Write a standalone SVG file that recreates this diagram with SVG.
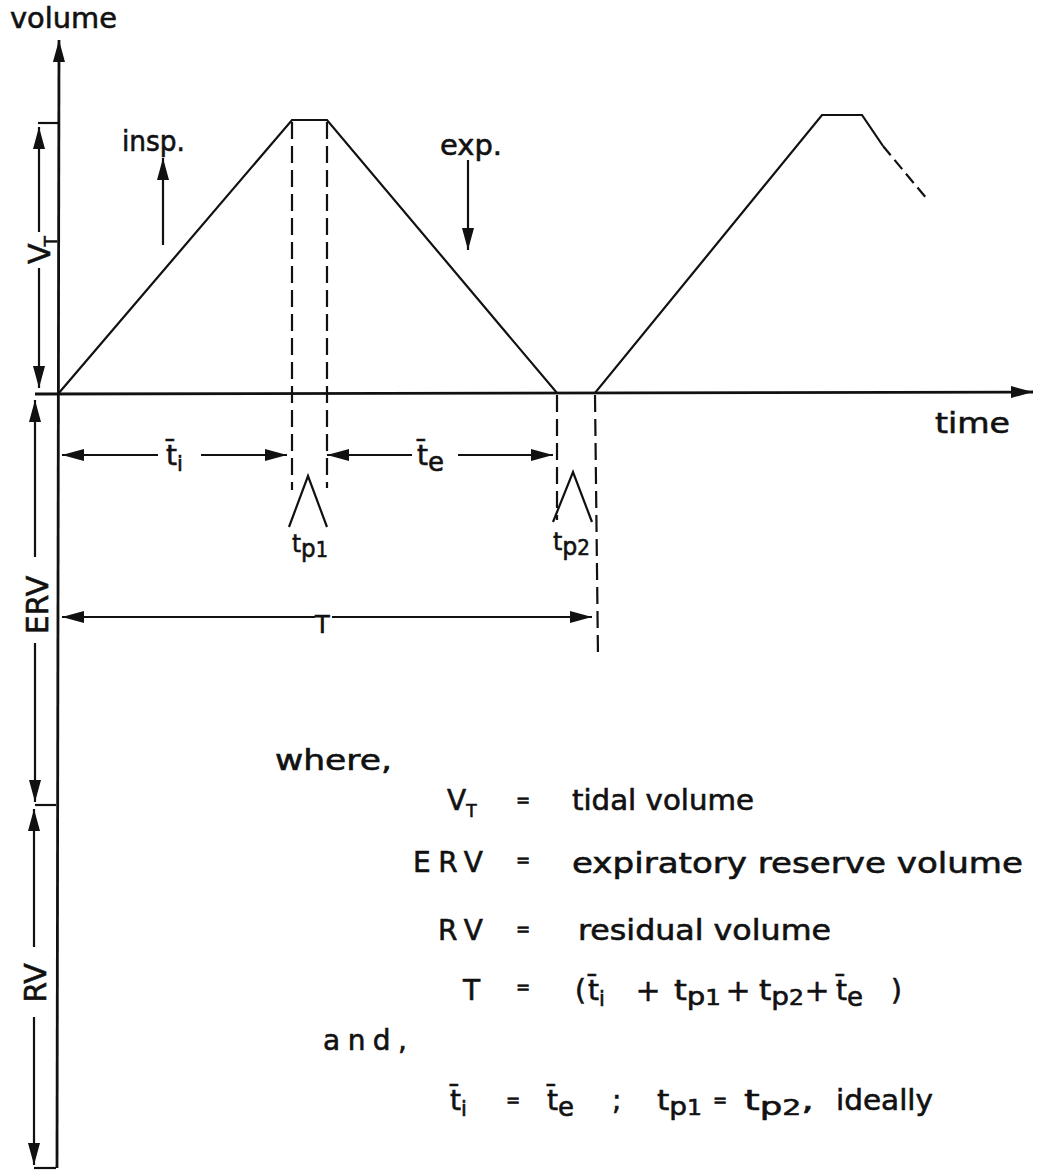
<svg xmlns="http://www.w3.org/2000/svg" width="1043" height="1171" viewBox="0 0 1043 1171">
<defs>
<marker id="ah" viewBox="0 0 22 12" refX="22" refY="6" markerWidth="22" markerHeight="12" markerUnits="userSpaceOnUse" orient="auto"><path d="M0,0 L22,6 L0,12 z" fill="#111"/></marker>
</defs>
<style>
.ln{stroke:#111;stroke-width:2.2;fill:none}
.ax{stroke:#111;stroke-width:2.8;fill:none}
.dash{stroke:#111;stroke-width:2.2;fill:none;stroke-dasharray:17 7}
.t{font-family:"DejaVu Sans",sans-serif;font-size:28px;fill:#111;stroke:#111;stroke-width:0.6}
.r{font-family:"DejaVu Sans",sans-serif;font-size:30px;fill:#111;stroke:#111;stroke-width:0.6}
.s{font-size:21px}
.eq{font-family:"DejaVu Sans",sans-serif;font-size:17px;fill:#111;stroke:#111;stroke-width:0.6;text-anchor:middle}
.pl{font-family:"DejaVu Sans",sans-serif;font-size:30px;fill:#111;stroke:#111;stroke-width:0.4;text-anchor:middle}
</style>
<rect width="1043" height="1171" fill="#fff"/>

<g id="axes">
<line class="ax" x1="57" y1="1168" x2="59" y2="40" marker-end="url(#ah)"/>
<line class="ax" x1="35" y1="394" x2="1033" y2="392" marker-end="url(#ah)"/>
<text class="t" x="10" y="28" textLength="107" lengthAdjust="spacingAndGlyphs">volume</text>
<text class="t" x="935" y="433" textLength="75" lengthAdjust="spacingAndGlyphs">time</text>
</g>

<g id="curve">
<path class="ln" d="M58,394 L292,120 L327,120 L557,393 L595,393 L822,115 L862,115 L883,146"/>
<path class="dash" d="M883,146 L927,199" style="stroke-dasharray:12 6"/>
</g>

<g id="guides">
<line class="dash" x1="292" y1="122" x2="292" y2="490"/>
<line class="dash" x1="327" y1="122" x2="327" y2="488"/>
<line class="dash" x1="557" y1="395" x2="557" y2="520"/>
<line class="dash" x1="595" y1="395" x2="598" y2="657"/>
<path class="ln" d="M289,527 L308,476 L327,527"/>
<path class="ln" d="M553,522 L573,472 L592,522"/>
</g>

<g id="connectors">
<line class="ln" x1="163" y1="245" x2="163" y2="158" marker-end="url(#ah)"/>
<line class="ln" x1="468" y1="160" x2="468" y2="250" marker-end="url(#ah)"/>
<line class="ln" x1="38" y1="123" x2="60" y2="123"/>
<line class="ln" x1="39" y1="232" x2="39" y2="127" marker-end="url(#ah)"/>
<line class="ln" x1="39" y1="268" x2="39" y2="388" marker-end="url(#ah)"/>
<line class="ln" x1="35" y1="557" x2="35" y2="400" marker-end="url(#ah)"/>
<line class="ln" x1="35" y1="643" x2="35" y2="802" marker-end="url(#ah)"/>
<line class="ln" x1="35" y1="805" x2="56" y2="805"/>
<line class="ln" x1="34" y1="947" x2="34" y2="809" marker-end="url(#ah)"/>
<line class="ln" x1="34" y1="1017" x2="34" y2="1165" marker-end="url(#ah)"/>
<line class="ln" x1="34" y1="1168" x2="56" y2="1168"/>
<line class="ln" x1="158" y1="455" x2="62" y2="455" marker-end="url(#ah)"/>
<line class="ln" x1="201" y1="455" x2="287" y2="455" marker-end="url(#ah)"/>
<line class="ln" x1="412" y1="455" x2="327" y2="455" marker-end="url(#ah)"/>
<line class="ln" x1="458" y1="455" x2="553" y2="455" marker-end="url(#ah)"/>
<line class="ln" x1="315" y1="617" x2="62" y2="617" marker-end="url(#ah)"/>
<line class="ln" x1="332" y1="617" x2="592" y2="617" marker-end="url(#ah)"/>
</g>

<g id="labels">
<text class="t" x="122" y="151" textLength="63" lengthAdjust="spacingAndGlyphs">insp.</text>
<text class="t" x="440" y="155" textLength="62" lengthAdjust="spacingAndGlyphs">exp.</text>
<text class="r" transform="translate(50,264) rotate(-90)">V<tspan style="font-size:17px" dx="-3" dy="7">T</tspan></text>
<text class="r" text-anchor="middle" transform="translate(48,605) rotate(-90)">ERV</text>
<text class="r" text-anchor="middle" transform="translate(46,983) rotate(-90)">RV</text>
<text class="t" x="166" y="465">t̄<tspan class="s" dy="6">i</tspan></text>
<text class="t" x="417" y="465">t̄<tspan style="font-size:26px" dy="6">e</tspan></text>
<text class="t" x="315" y="633" style="font-size:24px">T</text>
<text class="t" x="292" y="552" style="font-size:25px" textLength="36" lengthAdjust="spacingAndGlyphs">t<tspan dy="5">p</tspan><tspan class="s">1</tspan></text>
<text class="t" x="553" y="550" style="font-size:25px" textLength="37" lengthAdjust="spacingAndGlyphs">t<tspan dy="5">p</tspan><tspan class="s">2</tspan></text>
</g>

<g id="legend">
<text class="t" x="275" y="770" textLength="117" lengthAdjust="spacingAndGlyphs">where,</text>

<text class="t" x="447" y="810">V<tspan style="font-size:17px" dy="7">T</tspan></text>
<text class="eq" x="523" y="806">=</text>
<text class="t" x="572" y="810" textLength="182" lengthAdjust="spacingAndGlyphs">tidal volume</text>

<text class="t" x="413" y="872" textLength="70" lengthAdjust="spacing">ERV</text>
<text class="eq" x="523" y="866">=</text>
<text class="t" x="572" y="873" textLength="451" lengthAdjust="spacingAndGlyphs">expiratory reserve volume</text>

<text class="t" x="438" y="940" textLength="45" lengthAdjust="spacing">RV</text>
<text class="eq" x="523" y="935">=</text>
<text class="t" x="578" y="940" textLength="253" lengthAdjust="spacingAndGlyphs">residual volume</text>

<text class="t" x="463" y="1000">T</text>
<text class="eq" x="523" y="993">=</text>
<text class="t" x="575" y="1000">(</text>
<text class="t" x="588" y="1000">t̄<tspan class="s" dy="6">i</tspan></text>
<text class="pl" x="648" y="1001">+</text>
<text class="t" x="674" y="1000" textLength="47" lengthAdjust="spacingAndGlyphs">t<tspan style="font-size:25px" dy="5">p</tspan><tspan class="s">1</tspan></text>
<text class="pl" x="738" y="1001">+</text>
<text class="t" x="759" y="1000" textLength="45" lengthAdjust="spacingAndGlyphs">t<tspan style="font-size:25px" dy="5">p</tspan><tspan class="s">2</tspan></text>
<text class="pl" x="817" y="1001">+</text>
<text class="t" x="836" y="1000">t̄<tspan style="font-size:26px" dy="6">e</tspan></text>
<text class="t" x="891" y="1000">)</text>

<text class="t" x="323" y="1050" textLength="84" lengthAdjust="spacing">and,</text>

<text class="t" x="450" y="1110">t̄<tspan class="s" dy="6">i</tspan></text>
<text class="eq" x="513" y="1106">=</text>
<text class="t" x="547" y="1110">t̄<tspan style="font-size:26px" dy="6">e</tspan></text>
<text class="t" x="612" y="1110">;</text>
<text class="t" x="657" y="1110" textLength="45" lengthAdjust="spacingAndGlyphs">t<tspan style="font-size:25px" dy="5">p</tspan><tspan class="s">1</tspan></text>
<text class="eq" x="720" y="1106">=</text>
<text class="t" x="744" y="1110" textLength="70" lengthAdjust="spacingAndGlyphs">t<tspan style="font-size:25px" dy="5">p</tspan><tspan class="s">2</tspan><tspan dy="-5">,</tspan></text>
<text class="t" x="836" y="1110" textLength="97" lengthAdjust="spacingAndGlyphs">ideally</text>
</g>
</svg>
